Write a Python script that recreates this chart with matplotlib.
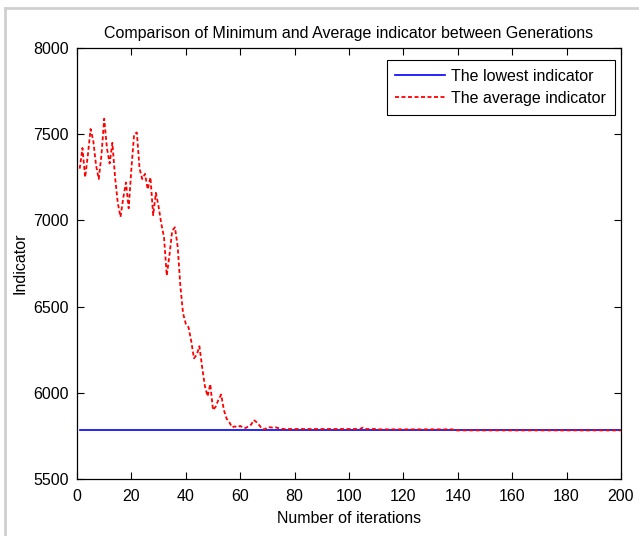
import numpy as np
import matplotlib.pyplot as plt
from matplotlib.lines import Line2D

# iterations and indicator values
iterations = list(range(1, 201))

lowest = [5782] * 200

avg_head = [7300, 7420, 7250, 7380, 7530, 7460, 7320, 7240, 7380, 7590,
            7420, 7330, 7450, 7250, 7100, 7020, 7130, 7220, 7070, 7300,
            7500, 7510, 7300, 7240, 7270, 7180, 7250, 7030, 7160, 7080,
            6980, 6900, 6680, 6800, 6940, 6960, 6850, 6620, 6460, 6400,
            6380, 6300, 6200, 6220, 6270, 6150, 6040, 5980, 6050, 5900,
            5920, 5960, 5990, 5900, 5850, 5830, 5800, 5805, 5800, 5808,
            5798, 5796, 5805, 5815, 5842, 5830, 5812, 5792, 5788, 5800,
            5800, 5798, 5800, 5795, 5792, 5790, 5790, 5790]
avg_mid = [5790] * 26 + [5798] + [5790] * 5 + [5788] * 28
avg_tail = [5782] * (200 - len(avg_head) - len(avg_mid))
average = avg_head + avg_mid + avg_tail

plt.rcParams['font.family'] = ['Liberation Sans', 'DejaVu Sans']
fs = 11.5

fig = plt.figure(figsize=(6.39, 5.36), dpi=100)
ax = fig.add_axes([77 / 639, 1 - 479 / 536, 544 / 639, 431 / 536])

ax.plot(iterations, lowest, color='#0000ff', lw=1.2, label='The lowest indicator')
ax.plot(iterations, average, color='#ff0000', lw=1.3, linestyle=(0, (2.2, 1.4)),
        label='The average indicator')

ax.set_xlim(0, 200)
ax.set_ylim(5500, 8000)
ax.set_xticks(np.arange(0, 201, 20))
ax.set_yticks(np.arange(5500, 8001, 500))
ax.tick_params(direction='in', top=True, right=True, labelsize=fs, length=5,
               width=0.8)
ax.tick_params(axis='x', pad=7)
ax.tick_params(axis='y', pad=6)
for s in ax.spines.values():
    s.set_linewidth(0.9)

ax.set_xlabel('Number of iterations', fontsize=fs, labelpad=5)
ax.set_ylabel('Indicator', fontsize=fs, labelpad=4)
ax.set_title('Comparison of Minimum and Average indicator between Generations',
             fontsize=fs, pad=7)

leg = ax.legend(loc='upper right', bbox_to_anchor=(615 / 639, 1 - 60 / 536),
                bbox_transform=fig.transFigure, fontsize=fs, fancybox=False,
                framealpha=1, edgecolor='black', borderaxespad=0,
                handlelength=3.1, handletextpad=0.4, borderpad=0.55,
                labelspacing=0.45)
leg.get_frame().set_linewidth(0.8)

# light gray frame of the screenshot
fig.add_artist(Line2D([5 / 639, 5 / 639], [0, 1 - 8 / 536], color='#d0d0d0', lw=2))
fig.add_artist(Line2D([5 / 639, 1], [1 - 8 / 536, 1 - 8 / 536], color='#d0d0d0', lw=2))

fig.savefig('out.png', dpi=100)
